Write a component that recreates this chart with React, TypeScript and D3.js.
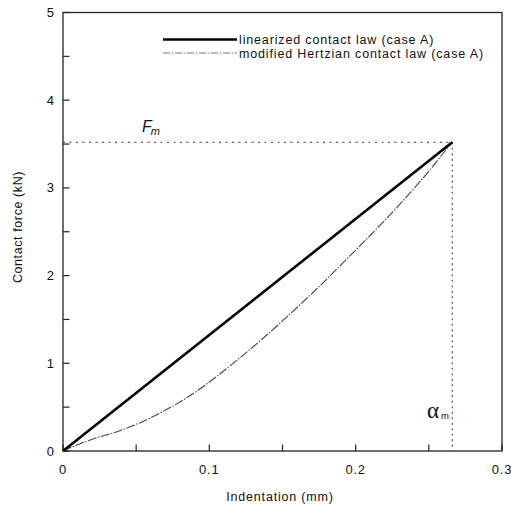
import React from "react";
import * as d3 from "d3";

const linearX = [0, 0.266];
const linearY = [0, 3.52];

const hertzX = [0, 0.004, 0.021, 0.037, 0.045, 0.055, 0.066, 0.078, 0.089, 0.105, 0.12, 0.135, 0.153, 0.171, 0.194, 0.21, 0.221, 0.237, 0.251, 0.263, 0.266];
const hertzY = [0, 0.03, 0.14, 0.22, 0.27, 0.34, 0.43, 0.54, 0.655, 0.85, 1.05, 1.26, 1.53, 1.81, 2.19, 2.46, 2.65, 2.94, 3.21, 3.46, 3.52];

const xMajor = [0, 0.1, 0.2, 0.3];
const xMajorLabels = ["0", "0.1", "0.2", "0.3"];
const xMinor = [0.05, 0.15, 0.25];
const yMajor = [0, 1, 2, 3, 4, 5];
const yMinor = [0.5, 1.5, 2.5, 3.5, 4.5];

const Fm = 3.52;
const alphaM = 0.266;

const legendLabels = ["linearized contact law (case A)", "modified Hertzian contact law (case A)"];

const W = 511;
const H = 506;
const FONT = "'Liberation Sans', Arial, sans-serif";

export default function App() {
  const x = d3.scaleLinear().domain([0, 0.3]).range([63, 502]);
  const y = d3.scaleLinear().domain([0, 5]).range([451, 12.5]);
  const line = d3
    .line<[number, number]>()
    .x((d) => x(d[0]))
    .y((d) => y(d[1]));
  const smooth = d3
    .line<[number, number]>()
    .x((d) => x(d[0]))
    .y((d) => y(d[1]))
    .curve(d3.curveMonotoneX);
  const lin: [number, number][] = linearX.map((v, i) => [v, linearY[i]]);
  const hz: [number, number][] = hertzX.map((v, i) => [v, hertzY[i]]);
  const tick = 6.5;

  return (
    <svg
      width={W}
      height={H}
      style={{ position: "absolute", left: 0, top: 0, background: "#fff" }}
      fontFamily={FONT}
    >
      <rect x={0} y={0} width={W} height={H} fill="#fff" />
      {/* frame */}
      <rect
        x={x(0)}
        y={y(5)}
        width={x(0.3) - x(0)}
        height={y(0) - y(5)}
        fill="none"
        stroke="#222"
        strokeWidth={1.3}
      />
      {/* x ticks */}
      {xMajor.map((v, i) => (
        <g key={"xm" + i}>
          <line x1={x(v)} x2={x(v)} y1={y(0)} y2={y(0) - tick} stroke="#222" strokeWidth={1.2} />
          <text x={x(v)} y={y(0) + 23} fontSize={13} textAnchor="middle" letterSpacing={0.8} fill="#111">
            {xMajorLabels[i]}
          </text>
        </g>
      ))}
      {xMinor.map((v, i) => (
        <line key={"xn" + i} x1={x(v)} x2={x(v)} y1={y(0)} y2={y(0) - tick} stroke="#222" strokeWidth={1.2} />
      ))}
      {/* y ticks */}
      {yMajor.map((v, i) => (
        <g key={"ym" + i}>
          <line x1={x(0)} x2={x(0) + tick} y1={y(v)} y2={y(v)} stroke="#222" strokeWidth={1.2} />
          <text x={x(0) - 9} y={y(v) + 4.5} fontSize={13} textAnchor="end" fill="#111">
            {v}
          </text>
        </g>
      ))}
      {yMinor.map((v, i) => (
        <line key={"yn" + i} x1={x(0)} x2={x(0) + tick} y1={y(v)} y2={y(v)} stroke="#222" strokeWidth={1.2} />
      ))}
      {/* axis titles */}
      <text x={280} y={501} fontSize={12.5} textAnchor="middle" letterSpacing={0.8} fill="#111">
        Indentation (mm)
      </text>
      <text
        transform="translate(22,227) rotate(-90)"
        fontSize={12.5}
        textAnchor="middle"
        letterSpacing={0.6}
        fill="#111"
      >
        Contact force (kN)
      </text>
      {/* reference lines */}
      <line x1={x(0)} x2={x(alphaM)} y1={y(Fm)} y2={y(Fm)} stroke="#333" strokeWidth={1} strokeDasharray="2,4.5" />
      <line x1={x(alphaM)} x2={x(alphaM)} y1={y(Fm)} y2={y(0)} stroke="#333" strokeWidth={1} strokeDasharray="2,3.5" />
      {/* labels */}
      <text x={142} y={132} fontSize={16} fontStyle="italic" fill="#111">
        F
        <tspan fontSize={11} dx={-1} dy={3}>m</tspan>
      </text>
      <text x={427} y={418} fontSize={23} fontFamily="'Liberation Serif', 'Times New Roman', serif" fill="#111">
        α
      </text>
      <text x={441} y={419} fontSize={9.5} fill="#111">
        m
      </text>
      {/* curves */}
      <path d={smooth(hz) || ""} fill="none" stroke="#444" strokeWidth={1.1} strokeDasharray="9,1.5,1.5,1.5" />
      <path d={line(lin) || ""} fill="none" stroke="#000" strokeWidth={2.6} />
      {/* legend */}
      <line x1={163} x2={237} y1={39.5} y2={39.5} stroke="#000" strokeWidth={2.4} />
      <line x1={163} x2={237} y1={53} y2={53} stroke="#777" strokeWidth={1} strokeDasharray="7,1.5,2,1.5" />
      <text x={239} y={44} fontSize={12.5} letterSpacing={0.85} fill="#111">
        {legendLabels[0]}
      </text>
      <text x={239} y={57.5} fontSize={12.5} letterSpacing={0.85} fill="#111">
        {legendLabels[1]}
      </text>
    </svg>
  );
}
